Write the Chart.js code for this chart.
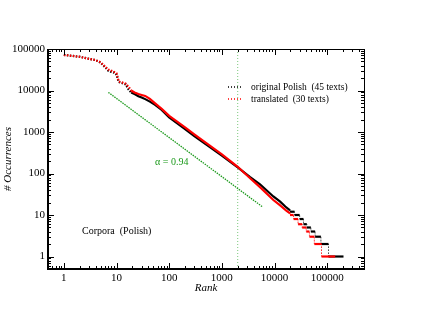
<!DOCTYPE html>
<html>
<head>
<meta charset="utf-8">
<script src="https://cdn.jsdelivr.net/npm/chart.js@4"></script>
<style>
html,body{margin:0;padding:0;background:#fff;}
</style>
</head>
<body>
<canvas id="zipf" width="436" height="317"></canvas>
<script>
/******************** data ********************/
// original Polish (45 texts)
const polishRank  = [1, 2, 3, 4, 5, 6, 7, 8, 9, 10, 11, 13, 15, 17, 19, 22, 26, 30, 35, 43, 54, 72,
    100, 200, 300, 500, 1000, 2000, 3440, 5300, 9500, 12800, 16000, 19700,
    19700, 24000, 24000, 30000, 30000, 35500, 35500, 41000, 41000, 49000, 49000, 59000,
    59000, 76000, 76000, 106000, 106000, 204000];
const polishCount = [72000, 65000, 58000, 54000, 47000, 37000, 30000, 28000, 27000, 24000, 16000, 15000, 14000, 10500, 9000, 8200, 7300, 6800, 6200, 5400, 4500, 3400,
    2250, 1180, 800, 505, 270, 140, 82, 55, 28, 21, 16, 13,
    12, 12, 10, 10, 8, 8, 6, 6, 5, 5, 4, 4,
    3, 3, 2, 2, 1, 1];
// translated (30 texts)
const transRank  = [1, 2, 3, 4, 5, 6, 7, 8, 9, 10, 11, 13, 15, 17, 19, 22, 26, 30, 35, 43, 54, 72,
    100, 200, 300, 500, 1000, 2000, 3440, 5300, 9500, 12800, 16500, 19700,
    19700, 23000, 23000, 28000, 28000, 33500, 33500, 40000, 40000, 46000, 46000, 57000,
    57000, 78000, 78000, 142000];
const transCount = [72000, 65000, 58000, 54000, 48000, 38000, 32000, 30000, 28000, 26000, 16500, 15500, 14500, 12300, 10000, 9000, 8200, 7800, 7400, 6300, 4900, 3600,
    2450, 1290, 880, 548, 290, 145, 77, 47, 23, 17, 13, 11,
    10, 10, 8, 8, 6, 6, 5, 5, 4, 4, 3, 3,
    2, 2, 1, 1];
// power-law guide, alpha = 0.94
const fitRank  = [7, 6000];
const fitCount = [9000, 15.5];
const markRank = 2000;
const decades = [1, 10, 100, 1000, 10000, 100000];

const serif = '"Liberation Serif", "Times New Roman", serif';

const pts = (xs, ys) => xs.map((v, i) => ({x: v, y: ys[i]}));

// dotted head, solid body, thin dotted risers in the tail
const segStyle = (riser) => ({
    borderDash: c => {
        if (c.p0.parsed.x === c.p1.parsed.x) return [1, 2];
        if (c.p1.parsed.x <= 20) return [1.5, 1.5];
        return undefined;
    },
    borderWidth: c => c.p0.parsed.x === c.p1.parsed.x ? 1 : undefined,
    borderColor: c => c.p0.parsed.x === c.p1.parsed.x ? riser : undefined
});

/******************** frame, inside ticks, legend, notes ********************/
const decor = {
    id: 'decor',
    afterDatasetsDraw(chart) {
        const {ctx, chartArea: a, scales: {x, y}} = chart;
        ctx.save();
        ctx.strokeStyle = '#000';
        ctx.setLineDash([]);

        // minor/major tick values
        const tickVals = [];
        for (let d = 0.1; d <= 1e6; d *= 10) {
            for (let k = 1; k <= 9; k++) tickVals.push({v: +(k * d).toPrecision(3), major: k === 1});
        }
        ctx.lineWidth = 1;
        tickVals.forEach(t => {
            const len = t.major ? 6 : 3;
            if (t.v >= x.min && t.v <= x.max) {
                const px = Math.round(x.getPixelForValue(t.v)) + 0.5;
                ctx.beginPath();
                ctx.moveTo(px, a.bottom); ctx.lineTo(px, a.bottom - len);
                ctx.moveTo(px, a.top); ctx.lineTo(px, a.top + len);
                ctx.stroke();
            }
            if (t.v >= y.min && t.v <= y.max) {
                const py = Math.round(y.getPixelForValue(t.v)) + 0.5;
                ctx.beginPath();
                ctx.moveTo(a.left, py); ctx.lineTo(a.left + len, py);
                ctx.moveTo(a.right, py); ctx.lineTo(a.right - len, py);
                ctx.stroke();
            }
        });

        // frame
        ctx.lineWidth = 1;
        ctx.strokeRect(a.left + 0.5, a.top + 0.5, a.right - a.left, a.bottom - a.top);
        ctx.lineWidth = 2;
        ctx.beginPath();
        ctx.moveTo(a.left, a.top); ctx.lineTo(a.left, a.bottom); ctx.lineTo(a.right, a.bottom);
        ctx.stroke();

        // legend
        ctx.font = '9.5px ' + serif;
        ctx.textBaseline = 'middle';
        ctx.fillStyle = '#000';
        ctx.lineWidth = 1.5;
        ctx.setLineDash([1, 2]);
        [['#000', 'original Polish  (45 texts)', 87], ['#f00', 'translated  (30 texts)', 99]].forEach(([c, txt, ly]) => {
            ctx.strokeStyle = c;
            ctx.beginPath();
            ctx.moveTo(228, ly); ctx.lineTo(243, ly);
            ctx.stroke();
            ctx.fillText(txt, 251, ly);
        });
        ctx.setLineDash([]);

        // notes
        ctx.font = '10px ' + serif;
        ctx.fillStyle = '#1c9a1c';
        ctx.fillText('\u03b1 = 0.94', 155, 162);
        ctx.fillStyle = '#000';
        ctx.fillText('Corpora  (Polish)', 82, 231);
        ctx.restore();
    }
};

new Chart(document.getElementById('zipf'), {
    type: 'scatter',
    data: {
        datasets: [
            {
                data: pts(transRank, transCount),
                showLine: true, borderColor: '#ff0000', borderWidth: 2.2, pointRadius: 0,
                segment: segStyle('rgba(255,0,0,0.55)')
            },
            {
                data: pts(polishRank, polishCount),
                showLine: true, borderColor: '#000', borderWidth: 2.2, pointRadius: 0,
                segment: segStyle('rgba(0,0,0,0.45)')
            },
            {
                data: pts(fitRank, fitCount),
                showLine: true, borderColor: '#1c9a1c', borderWidth: 1.3, borderDash: [1.5, 1], pointRadius: 0
            },
            {
                data: [{x: markRank, y: 0.5}, {x: markRank, y: 100000}],
                showLine: true, borderColor: '#7cc87c', borderWidth: 1, borderDash: [1, 2], pointRadius: 0
            }
        ]
    },
    options: {
        responsive: false,
        animation: false,
        devicePixelRatio: 1,
        layout: {padding: {top: 49, right: 72, bottom: 18, left: 0}},
        plugins: {legend: {display: false}, tooltip: {enabled: false}},
        scales: {
            x: {
                type: 'logarithmic', position: 'bottom', min: 0.5, max: 500000,
                afterFit: s => { s.height = 30; },
                afterBuildTicks: s => { s.ticks = decades.map(v => ({value: v})); },
                grid: {display: false, drawTicks: false},
                border: {display: false},
                ticks: {
                    autoSkip: false, maxRotation: 0, padding: 3, color: '#000',
                    font: {family: serif, size: 11},
                    callback: v => String(v)
                },
                title: {display: true, text: 'Rank', color: '#000', padding: {top: 0, bottom: 4},
                    font: {family: serif, size: 11, style: 'italic'}}
            },
            y: {
                type: 'logarithmic', position: 'left', min: 0.5, max: 100000,
                afterFit: s => { s.width = 48; },
                afterBuildTicks: s => { s.ticks = decades.map(v => ({value: v})); },
                grid: {display: false, drawTicks: false},
                border: {display: false},
                ticks: {
                    autoSkip: false, padding: 3, color: '#000',
                    font: {family: serif, size: 11},
                    callback: v => String(v)
                },
                title: {display: true, text: '# Occurrences', color: '#000', padding: {top: 2, bottom: 0},
                    font: {family: serif, size: 11, style: 'italic'}}
            }
        }
    },
    plugins: [decor]
});
</script>
</body>
</html>
